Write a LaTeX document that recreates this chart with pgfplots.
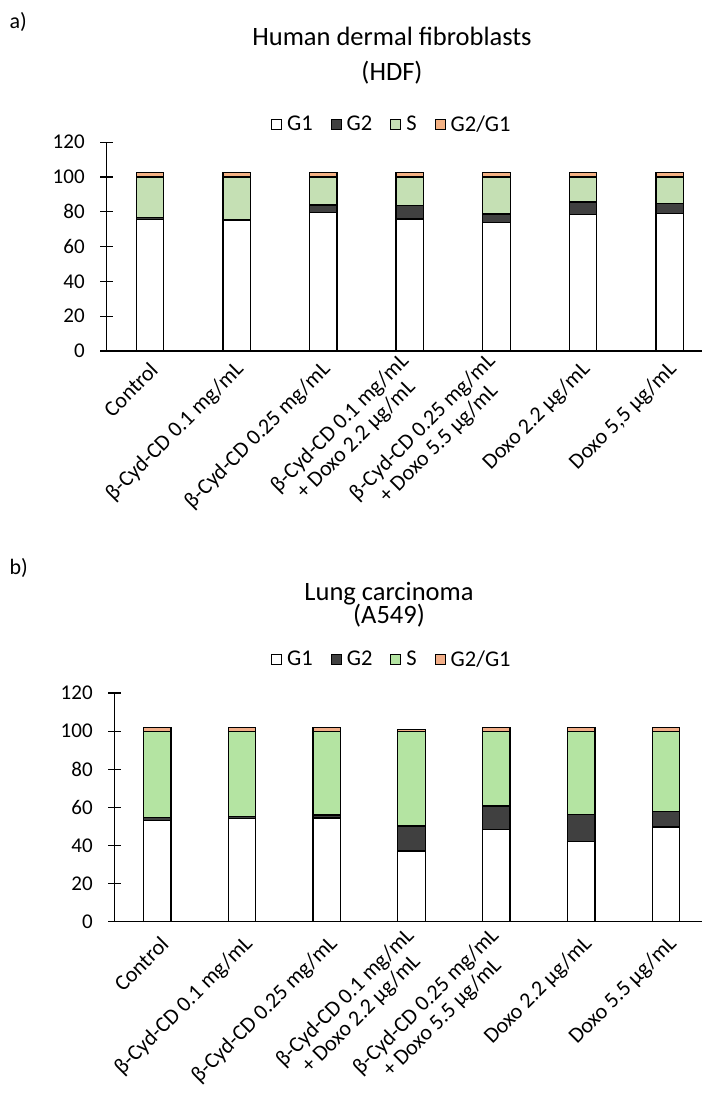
\documentclass[border=0pt]{standalone}
\usepackage{fontspec}
\setmainfont{Carlito}
\usepackage{pgfplots}
\pgfplotsset{compat=1.18}
\usepackage{pgfplotstable}

\definecolor{gtwo}{HTML}{404040}
\definecolor{sgreenA}{HTML}{C5E0B4}
\definecolor{sgreenB}{HTML}{B4E4A2}
\definecolor{ratioA}{HTML}{F4B183}
\definecolor{ratioB}{HTML}{F2AE88}

\pgfplotstableread{
x G1 G2 S R
0 75.5 1.2 23.3 2.5
1 75.0 0.4 24.6 2.5
2 79.6 4.3 16.1 2.5
3 75.8 7.9 16.3 2.5
4 73.9 4.8 21.3 2.5
5 78.3 7.3 14.4 2.5
6 78.9 5.9 15.2 2.5
}\hdf

\pgfplotstableread{
x G1 G2 S R
0 53.0 1.7 45.3 2.0
1 54.2 1.2 44.6 2.0
2 54.5 1.5 44.0 2.0
3 37.1 13.2 49.7 0.9
4 48.3 12.5 39.2 2.0
5 42.0 14.1 43.9 2.0
6 49.7 8.3 42.0 2.0
}\asc

\pgfplotsset{
 cellstyle/.style={
  axis lines=left, axis line style={-, line width=1.2pt},
  scale only axis, anchor=south west,
  ybar stacked, bar width=27.5pt,
  ymin=0, ymax=120, ytick={0,20,...,120},
  xmin=-0.5,
  xtick=data, xtick style={draw=none},
  ytick style={line width=1.2pt, black}, tick align=center, major tick length=13pt,
  yticklabel style={font=\fontsize{21}{23}\selectfont, xshift=-12pt},
  /pgf/number format/assume math mode=true,
  xticklabel style={rotate=45, anchor=east, align=center, font=\fontsize{22}{23}\selectfont},
  every axis plot/.append style={draw=black, line width=1.3pt},
  every axis plot post/.append style={legend image code/.code={\draw[##1, draw=black, line width=1pt] (0pt,-5pt) rectangle (10pt,5pt);}},
  legend style={draw=none, fill=none, legend columns=4, font=\fontsize{22.5}{24}\selectfont,
    /tikz/every odd column/.append style={column sep=3pt},
    /tikz/every even column/.append style={column sep=16pt}, anchor=center},
 }
}

\begin{document}
\begin{tikzpicture}
\node[anchor=west, font=\fontsize{22}{24}\selectfont] at (6pt,1073pt) {a)};
\node[font=\fontsize{26.5}{28}\selectfont] at (392pt,1059pt) {Human dermal fibroblasts};
\node[font=\fontsize{26.5}{28}\selectfont] at (392pt,1022pt) {(HDF)};

\begin{axis}[cellstyle, at={(106.7pt,744pt)}, x=86.6pt, y=1.74pt, xmax=6.374,
  xticklabel style={yshift=-9pt},
  xticklabels={Control, {β-Cyd-CD 0.1 mg/mL}, {β-Cyd-CD 0.25 mg/mL}, {β-Cyd-CD 0.1 mg/mL\\+ Doxo 2.2 µg/mL}, {β-Cyd-CD 0.25 mg/mL\\+ Doxo 5.5 µg/mL}, {Doxo 2.2 µg/mL}, {Doxo 5,5 µg/mL}},
  legend style={at={(axis description cs:0.479,1.085)}}]
\addplot[fill=white] table[x=x, y=G1] {\hdf};
\addplot[fill=gtwo] table[x=x, y=G2] {\hdf};
\addplot[fill=sgreenA] table[x=x, y=S] {\hdf};
\addplot[fill=ratioA] table[x=x, y=R] {\hdf};
\legend{G1, G2, S, G2/G1}
\end{axis}

\node[anchor=west, font=\fontsize{22}{24}\selectfont] at (6pt,527pt) {b)};
\node[font=\fontsize{26.5}{28}\selectfont] at (389pt,501.5pt) {Lung carcinoma};
\node[font=\fontsize{26.5}{28}\selectfont] at (389pt,479pt) {(A549)};

\begin{axis}[cellstyle, at={(114.7pt,173.3pt)}, x=84.8pt, y=1.905pt, xmax=6.426,
  xticklabel style={yshift=-14pt},
  xticklabels={Control, {β-Cyd-CD 0.1 mg/mL}, {β-Cyd-CD 0.25 mg/mL}, {β-Cyd-CD 0.1 mg/mL\\+ Doxo 2.2 µg/mL}, {β-Cyd-CD 0.25 mg/mL\\+ Doxo 5.5 µg/mL}, {Doxo 2.2 µg/mL}, {Doxo 5.5 µg/mL}},
  legend style={at={(axis description cs:0.472,1.149)}}]
\addplot[fill=white] table[x=x, y=G1] {\asc};
\addplot[fill=gtwo] table[x=x, y=G2] {\asc};
\addplot[fill=sgreenB] table[x=x, y=S] {\asc};
\addplot[fill=ratioB] table[x=x, y=R] {\asc};
\legend{G1, G2, S, G2/G1}
\end{axis}

\pgfresetboundingbox
\path[use as bounding box] (0pt,0pt) rectangle (703pt,1095pt);
\end{tikzpicture}
\end{document}
